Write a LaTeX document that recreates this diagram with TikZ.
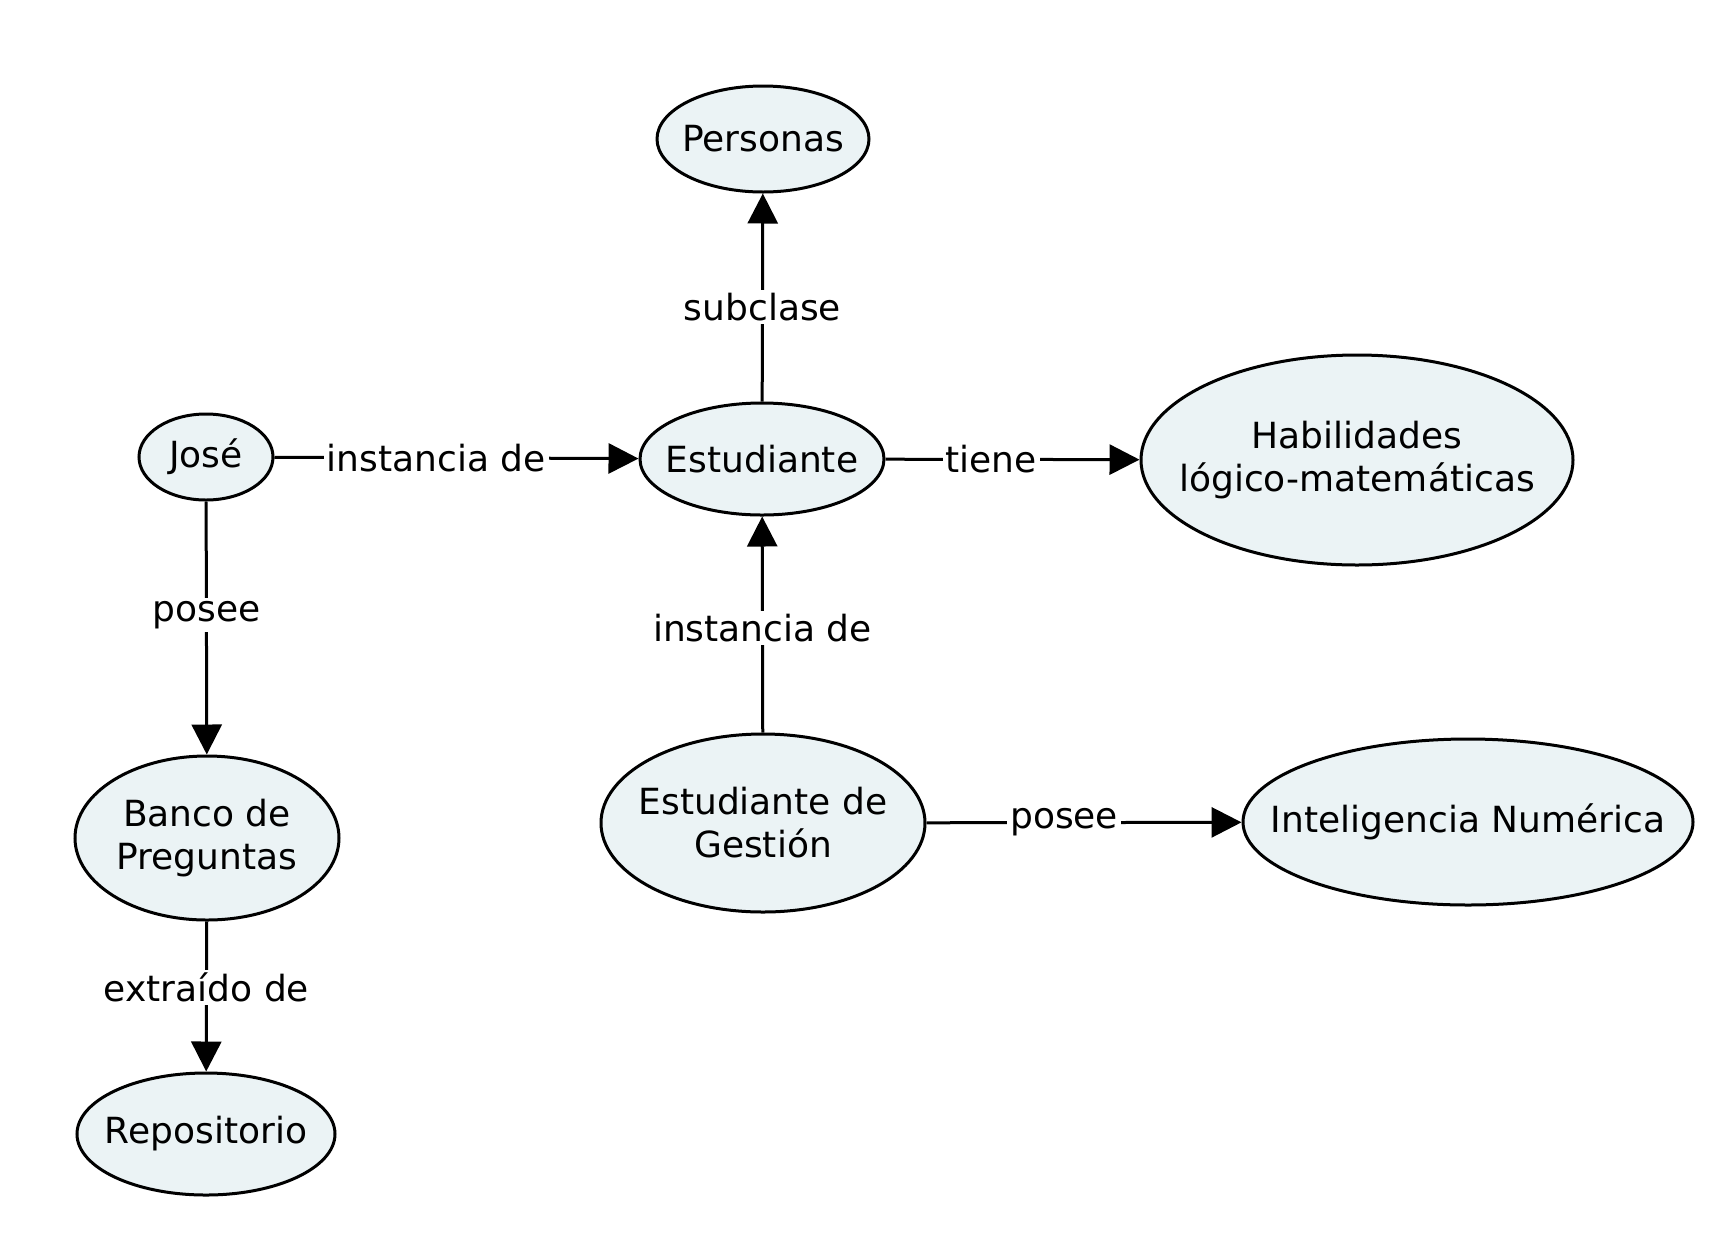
\documentclass[tikz,border=0pt]{standalone}
\usepackage{fontspec}
\setmainfont{DejaVu Sans}
\usetikzlibrary{shapes.geometric,arrows.meta}
\definecolor{nodefill}{RGB}{235,243,245}
\begin{document}
\begin{tikzpicture}[x=1pt,y=-1pt,
  concept/.style={ellipse,draw=black,line width=3pt,fill=nodefill,inner xsep=-400pt,inner ysep=-400pt,align=center,
    font=\fontsize{36}{43}\selectfont},
  link/.style={line width=3pt,-{Triangle[length=30pt,width=30pt]}},
  lbl/.style={fill=white,inner sep=3pt,font=\fontsize{36}{43}\selectfont}]
\useasboundingbox (0,0) rectangle (1716,1235);
\node[concept,minimum width=212,minimum height=106] (per) at (763,139) {Personas};
\node[concept,minimum width=134,minimum height=86] (jose) at (206,457) {José};
\node[concept,minimum width=244,minimum height=112] (est) at (762,459) {Estudiante};
\node[concept,minimum width=432,minimum height=210] (hab) at (1357,460) {Habilidades\\lógico-matemáticas};
\node[concept,minimum width=264,minimum height=164] (ban) at (207,838) {Banco de\\Preguntas};
\node[concept,minimum width=258,minimum height=122] (rep) at (206,1134) {Repositorio};
\node[concept,minimum width=324,minimum height=178] (ges) at (763,823) {Estudiante de\\Gestión};
\node[concept,minimum width=450,minimum height=166] (intl) at (1468,822) {Inteligencia Numérica};
\draw[link] (jose) -- node[lbl,pos=0.444] {instancia de} (est);
\draw[link] (est) -- node[lbl,pos=0.455] {subclase} (per);
\draw[link] (est) -- node[lbl,pos=0.416] {tiene} (hab);
\draw[link] (jose) -- node[lbl,pos=0.449] {posee} (ban);
\draw[link] (ges) -- node[lbl,pos=0.484] {instancia de} (est);
\draw[link] (ban) -- node[lbl,pos=0.438] {extraído de} (rep);
\draw[link] (ges) -- node[lbl,pos=0.437] {posee} (intl);
\end{tikzpicture}
\end{document}
